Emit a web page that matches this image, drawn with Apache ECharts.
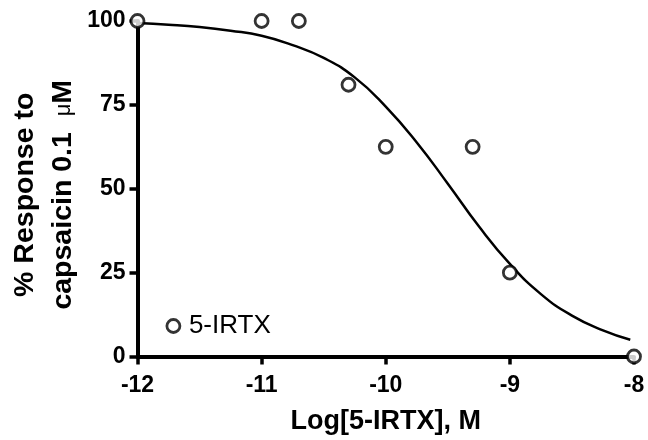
<!DOCTYPE html>
<html>
<head>
<meta charset="utf-8">
<script src="https://cdn.jsdelivr.net/npm/echarts@6/dist/echarts.min.js"></script>
<style>html,body{margin:0;padding:0;background:#fff}#c{width:648px;height:440px}</style>
</head>
<body>
<div id="c"></div>
<script>
// Observed data (log concentration, % response)
const logConc = [-12, -11, -10.7, -10.3, -10, -9.3, -9, -8];
const response = [100, 100, 100, 81, 62.5, 62.5, 25, 0];
// Fitted curve values
const curveX = [-12, -11.75, -11.5, -11.25, -11, -10.75, -10.5, -10.25, -10, -9.75, -9.5, -9.25, -9, -8.75, -8.5, -8.25, -8.03];
const curveY = [99.4, 98.9, 98.2, 97.1, 95.6, 92.8, 89, 83.2, 74.5, 63.8, 51.5, 38.8, 27.6, 18.6, 12.2, 7.8, 5];
const xTicks = [-12, -11, -10, -9, -8];
const yTicks = [0, 25, 50, 75, 100];
const seriesName = '5-IRTX';

const chart = echarts.init(document.getElementById('c'));
const font = 'Liberation Sans, Arial, sans-serif';
chart.setOption({
  animation: false,
  grid: { left: 137.5, right: 14, top: 21, bottom: 83.5, containLabel: false, outerBoundsMode: 'none' },
  legend: {
    data: [{ name: seriesName, icon: 'circle' }],
    left: 165.5, top: 313, padding: 0,
    itemWidth: 13, itemHeight: 13,
    itemStyle: { color: '#fff', borderColor: '#000', borderWidth: 2.8 },
    textStyle: { fontFamily: font, fontSize: 26, color: '#000', padding: [0, 0, 0, 4] }
  },
  xAxis: {
    type: 'value', min: -12, max: -8, interval: 1,
    name: 'Log[5-IRTX], M', nameLocation: 'middle', nameGap: 52, nameMoveOverlap: false,
    nameTextStyle: { fontFamily: font, fontSize: 27, fontWeight: 'bold', color: '#000' },
    axisLine: { lineStyle: { color: '#000', width: 4 } },
    axisTick: { show: true, length: 8, lineStyle: { color: '#000', width: 3.5 } },
    axisLabel: { fontFamily: font, fontSize: 23, fontWeight: 'bold', color: '#000', margin: 18,
      formatter: v => xTicks.includes(v) ? String(v) : '' },
    splitLine: { show: false }
  },
  yAxis: {
    type: 'value', min: 0, max: 100, interval: 25,
    name: '% Response to\ncapsaicin 0.1  {mu|\u03bc}M', nameLocation: 'middle', nameGap: 55, nameMoveOverlap: false,
    nameTextStyle: { fontFamily: font, fontSize: 28.5, fontWeight: 'bold', color: '#000', lineHeight: 38,
      padding: [0, 12, 0, 0],
      rich: { mu: { fontFamily: font, fontSize: 22, fontWeight: 'normal', color: '#000', lineHeight: 38 } } },
    axisLine: { show: true, lineStyle: { color: '#000', width: 4 } },
    axisTick: { show: true, length: 8, lineStyle: { color: '#000', width: 3.5 } },
    axisLabel: { fontFamily: font, fontSize: 23, fontWeight: 'bold', color: '#000', margin: 12,
      formatter: v => yTicks.includes(v) ? String(v) : '' },
    splitLine: { show: false }
  },
  series: [
    {
      name: 'fit', type: 'line', smooth: true, showSymbol: false, symbol: 'none',
      data: curveX.map((x, i) => [x, curveY[i]]),
      lineStyle: { color: '#000', width: 2.5 }, z: 2, silent: true
    },
    {
      name: seriesName, type: 'scatter', symbol: 'circle', symbolSize: 13,
      data: logConc.map((x, i) => [x, response[i]]),
      itemStyle: { color: '#fff', borderColor: '#000', borderWidth: 2.8 }, z: 3,
      clip: false
    }
  ]
});
</script>
</body>
</html>
